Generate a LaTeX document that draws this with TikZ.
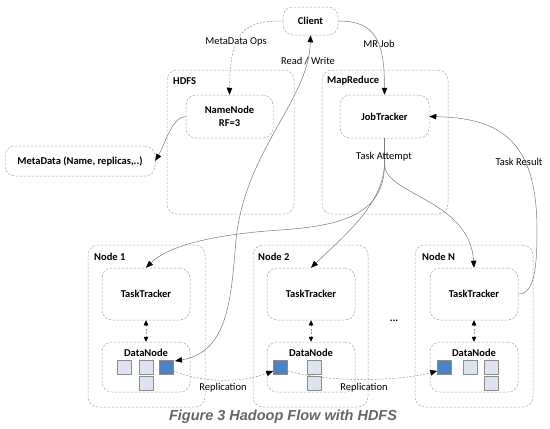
\documentclass[tikz,border=0pt]{standalone}
\usepackage{fontspec}
\setmainfont{Carlito}
\newfontfamily\capfont{Liberation Sans}
\usetikzlibrary{arrows.meta,calc}
\definecolor{boxline}{HTML}{ABABAB}
\definecolor{conn}{HTML}{7A7A7A}
\definecolor{lightsq}{HTML}{DDE3F1}
\definecolor{bluesq}{HTML}{4F81C6}
\definecolor{sqline}{HTML}{8C8C8C}
\definecolor{captiongray}{HTML}{666666}
\tikzset{
  x=1pt,y=-1pt,
  every node/.style={font=\fontsize{10.5}{12}\selectfont, inner sep=0pt},
  dbox/.style={draw=boxline, dash pattern=on 2.5pt off 1.5pt, rounded corners=10pt, line width=0.5pt},
  bold/.style={font=\fontsize{10.5}{12}\selectfont\bfseries},
  conline/.style={draw=conn, line width=0.5pt},
  dline/.style={draw=conn!80, line width=0.5pt, dash pattern=on 2pt off 1.5pt},
  tip/.style={-{Triangle[length=7pt,width=5.5pt,color=black]}},
  tips/.style={{Triangle[length=7pt,width=5.5pt,color=black]}-{Triangle[length=7pt,width=5.5pt,color=black]}},
  stips/.style={{Triangle[length=5pt,width=4.5pt,color=black]}-{Triangle[length=5pt,width=4.5pt,color=black]}},
  lsq/.style={draw=sqline, fill=lightsq, minimum size=14pt, line width=0.5pt},
  bsq/.style={draw=sqline, fill=bluesq, minimum size=14pt, line width=0.5pt},
}
\begin{document}
\begin{tikzpicture}
\useasboundingbox (0,0) rectangle (550,429);
% outer containers
\node[dbox, minimum width=127pt, minimum height=144pt] (hdfs) at (230.5,142) {};
\node[dbox, minimum width=126pt, minimum height=144pt] (mr) at (385,142) {};
\node[dbox, minimum width=117pt, minimum height=162pt] (node1) at (146.5,326) {};
\node[dbox, minimum width=115pt, minimum height=162pt] (node2) at (310.5,326) {};
\node[dbox, minimum width=118pt, minimum height=162pt] (noden) at (474,326) {};
% container labels
\node[bold, anchor=west] (hdfsl) at (173,81) {HDFS};
\node[bold, anchor=west] (mrl) at (327,81) {MapReduce};
\node[bold, anchor=west] (n1l) at (94,257) {Node 1};
\node[bold, anchor=west] (n2l) at (258,257) {Node 2};
\node[bold, anchor=west] (nnl) at (422,257) {Node N};
% inner nodes
\node[dbox, bold, minimum width=55pt, minimum height=28pt] (client) at (310.5,21) {Client};
\node[dbox, bold, minimum width=87pt, minimum height=43pt, align=center] (nn) at (229.5,116.5) {NameNode\\[1pt]RF=3};
\node[dbox, bold, minimum width=150pt, minimum height=30pt] (md) at (80,161) {MetaData (Name, replicas,..)};
\node[dbox, bold, minimum width=89pt, minimum height=43pt] (jt) at (384.5,116.5) {JobTracker};
\node[dbox, bold, minimum width=88pt, minimum height=52pt] (tt1) at (146,294) {TaskTracker};
\node[dbox, bold, minimum width=88pt, minimum height=52pt] (tt2) at (311,294) {TaskTracker};
\node[dbox, bold, minimum width=88pt, minimum height=52pt] (ttn) at (474,294) {TaskTracker};
\node[dbox, minimum width=88pt, minimum height=50pt] (dn1) at (146,367) {};
\node[dbox, minimum width=88pt, minimum height=50pt] (dn2) at (311,367) {};
\node[dbox, minimum width=88pt, minimum height=50pt] (dnn) at (474,367) {};
\node[bold] (dn1l) at (146,353) {DataNode};
\node[bold] (dn2l) at (311,353) {DataNode};
\node[bold] (dnnl) at (474,353) {DataNode};
% blocks
\node[lsq] (a1) at (124,367.5) {};
\node[lsq] (a2) at (146,367.5) {};
\node[bsq] (b1) at (166,367.5) {};
\node[lsq] (a3) at (146,383) {};
\node[bsq] (b2) at (280.5,367.5) {};
\node[lsq] (c1) at (314,367.5) {};
\node[lsq] (c2) at (314,383) {};
\node[bsq] (bn) at (444.5,367.5) {};
\node[lsq] (d1) at (470,367.5) {};
\node[lsq] (d2) at (491,367.5) {};
\node[lsq] (d3) at (491,383) {};
\node (dots) at (394,321) {\textbf{...}};
% connectors
\coordinate (rw) at (175,361);
\coordinate (ta) at (384.5,165);
\draw[dline, tip] (client.west) .. controls (245,21) and (230,30) .. (nn.north);
\node[fill=white, inner sep=1pt] (mdo) at (236,42) {MetaData Ops};
\draw[conline, tip] (client.east) .. controls (375,21) and (384.5,40) .. (jt.north);
\node (mrj) at (379,44) {MR Job};
\draw[conline, tips] (client.south) .. controls (309,100) and (245,150) .. (236,240) .. controls (231,300) and (228,352) .. (rw);
\node (rwl) at (308,61) {Read / Write};
\draw[conline, tip] (nn.west) .. controls (172,117) and (166,142) .. (md.east);
\draw[conline] (jt.south) -- (ta);
\draw[conline, tip] (ta) .. controls (384,215) and (340,226) .. (280,230) .. controls (220,234) and (170,244) .. (tt1.north);
\draw[conline, tip] (ta) .. controls (382,205) and (345,235) .. (tt2.north);
\draw[conline, tip] (ta) .. controls (386,195) and (470,200) .. (ttn.north);
\node (tal) at (384,157) {Task Attempt};
\draw[conline, tip] (ttn.east) .. controls (534,294) and (537,270) .. (537,230) .. controls (537,140) and (500,118) .. (jt.east);
\node (trl) at (519,162) {Task Result};
\draw[dline, stips] (tt1.south) -- (dn1.north);
\draw[dline, stips] (tt2.south) -- (dn2.north);
\draw[dline, stips] (ttn.south) -- (dnn.north);
\draw[dline, tip] (b1.-25) .. controls (205,384) and (245,382) .. (b2.205);
\draw[dline, tip] (b2.-25) .. controls (335,384) and (405,380) .. (bn.205);
\node (rep1) at (223,388) {Replication};
\node (rep2) at (364,388) {Replication};
\node[font=\capfont\fontsize{14.5}{16}\selectfont\bfseries\itshape, text=captiongray] (cap) at (283,417) {Figure 3 Hadoop Flow with HDFS};
\end{tikzpicture}
\end{document}
